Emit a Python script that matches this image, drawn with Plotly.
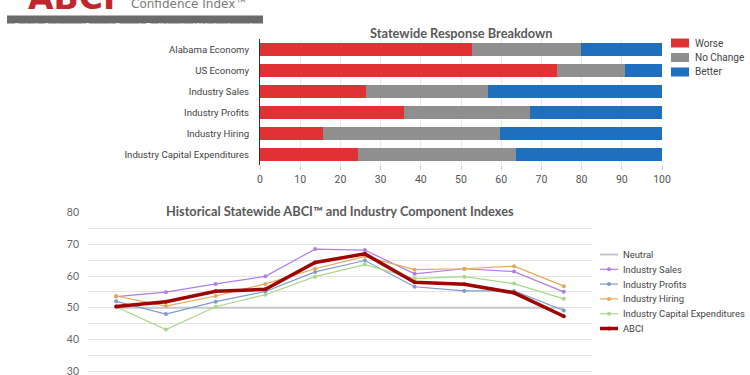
import plotly.graph_objects as go

# ---------------- data ----------------
bar_categories = ["Alabama Economy", "US Economy", "Industry Sales", "Industry Profits",
                  "Industry Hiring", "Industry Capital Expenditures"]
worse = [52.8, 74.0, 26.4, 35.8, 15.6, 24.4]
no_change = [27.1, 16.7, 30.3, 31.4, 44.2, 39.3]
better = [20.1, 9.3, 43.3, 32.8, 40.2, 36.3]

periods = ["P1", "P2", "P3", "P4", "P5", "P6", "P7", "P8", "P9", "P10"]
neutral = [50, 50, 50, 50, 50, 50, 50, 50, 50, 50]
industry_sales = [53.5, 54.9, 57.5, 59.9, 68.5, 68.2, 60.7, 62.3, 61.4, 55.0]
industry_profits = [52.0, 48.0, 51.9, 55.1, 61.3, 64.9, 56.6, 55.3, 55.3, 49.1]
industry_hiring = [53.7, 50.5, 53.7, 57.5, 62.3, 66.2, 62.0, 62.3, 63.1, 56.8]
industry_capex = [50.2, 43.1, 50.3, 54.1, 59.8, 63.6, 59.2, 59.8, 57.6, 52.8]
abci = [50.4, 51.9, 55.2, 55.8, 64.3, 67.0, 58.0, 57.4, 54.7, 47.3]
y_ticks = [30, 40, 50, 60, 70, 80]

W, H = 750, 375


def px_x(p):
    return p / W


def px_y(p):
    return 1 - p / H


fig = go.Figure()

# ---------------- bar chart ----------------
bar_series = [("Worse", worse, "#e03234"), ("No Change", no_change, "#8f8f8f"),
              ("Better", better, "#1f6fbf")]
for name, vals, col in bar_series:
    fig.add_trace(go.Bar(y=bar_categories, x=vals, name=name, orientation="h",
                         marker=dict(color=col, line=dict(width=0)),
                         xaxis="x", yaxis="y", showlegend=False))

# ---------------- line chart ----------------
line_series = [
    ("Neutral", neutral, "#c6c6cc", 2, False),
    ("Industry Sales", industry_sales, "#b07fe3", 1.2, True),
    ("Industry Profits", industry_profits, "#7d9cc9", 1.2, True),
    ("Industry Hiring", industry_hiring, "#e5a85a", 1.2, True),
    ("Industry Capital Expenditures", industry_capex, "#a8d88a", 1.2, True),
    ("ABCI", abci, "#9e0606", 3.5, True),
]
for name, vals, col, w, mk in line_series:
    fig.add_trace(go.Scatter(x=periods, y=vals, name=name,
                             mode="lines+markers" if mk else "lines",
                             line=dict(color=col, width=w),
                             marker=dict(size=4, color=col),
                             xaxis="x2", yaxis="y2", showlegend=False))

label_font = "Roboto"

# line chart y scale: 10 units = 31.65 px, 30 at y=371 px
y_lo = 29
y_px_lo = 371 + (30 - y_lo) * 3.165

fig.update_layout(
    width=W, height=H,
    margin=dict(l=0, r=0, t=0, b=0, autoexpand=False),
    paper_bgcolor="white", plot_bgcolor="white",
    barmode="stack", bargap=0.4,
    font=dict(family=label_font, color="#444", size=10),
    xaxis=dict(domain=[px_x(260), px_x(662)], range=[0, 100], dtick=10,
               showgrid=True, gridcolor="#e8e8e8", gridwidth=1,
               ticks="outside", ticklen=4, tickcolor="#cccccc",
               tickfont=dict(family=label_font, size=10.5, color="#555"),
               showline=False, zeroline=False, anchor="y", automargin=False),
    yaxis=dict(domain=[px_y(165), px_y(39)], autorange="reversed",
               showline=True, linecolor="#333", linewidth=1,
               ticks="", ticklabelstandoff=8,
               tickfont=dict(family=label_font, size=9.6, color="#444"),
               anchor="x", showgrid=False, automargin=False),
    xaxis2=dict(domain=[px_x(88), px_x(592)], showgrid=False, showline=False,
                showticklabels=False, zeroline=False, anchor="y2", automargin=False),
    yaxis2=dict(domain=[px_y(y_px_lo), px_y(212.7)], range=[y_lo, 80], tickvals=y_ticks,
                showgrid=True, gridcolor="#e3e3e3", gridwidth=1.3,
                minor=dict(tickvals=[35, 45, 55, 65, 75], showgrid=True,
                           gridcolor="#e3e3e3", gridwidth=1.3),
                zeroline=False, showline=False, ticks="", ticklabelstandoff=8,
                ticklabeloverflow="allow",
                tickfont=dict(family="Lato", size=10.5, color="#666"), anchor="x2",
                automargin=False),
    showlegend=False,
)

# ---------------- custom legends (tight spacing like the reference) ----------------
bar_leg_y = [43, 57.5, 72]
for (name, vals, col), yy in zip(bar_series, bar_leg_y):
    fig.add_shape(type="rect", xref="paper", yref="paper", x0=px_x(671), x1=px_x(689),
                  y0=px_y(yy + 4.5), y1=px_y(yy - 4.5), fillcolor=col, line=dict(width=0))
    fig.add_annotation(text=name, x=px_x(693), y=px_y(yy), xref="paper", yref="paper",
                       xanchor="left", yanchor="middle", showarrow=False,
                       font=dict(family=label_font, size=10, color="#444"))

line_leg_y = [254.5, 269.3, 284.1, 298.9, 313.7, 328.5]
for (name, vals, col, w, mk), yy in zip(line_series, line_leg_y):
    fig.add_shape(type="line", xref="paper", yref="paper", x0=px_x(600), x1=px_x(618),
                  y0=px_y(yy), y1=px_y(yy), line=dict(color=col, width=w))
    if mk:
        fig.add_shape(type="circle", xref="paper", yref="paper",
                      x0=px_x(607), x1=px_x(611), y0=px_y(yy + 2), y1=px_y(yy - 2),
                      fillcolor=col, line=dict(width=0))
    fig.add_annotation(text=name, x=px_x(621), y=px_y(yy), xref="paper", yref="paper",
                       xanchor="left", yanchor="middle", showarrow=False,
                       font=dict(family=label_font, size=9.4, color="#444"))

# titles
fig.add_annotation(text="<b>Statewide Response Breakdown</b>", x=px_x(461), y=px_y(23),
                   xref="paper", yref="paper", showarrow=False,
                   font=dict(family="Lato", size=12.8, color="#595959"))
fig.add_annotation(text="<b>Historical Statewide ABCI™ and Industry Component Indexes</b>",
                   x=px_x(340), y=px_y(211), xref="paper", yref="paper", showarrow=False,
                   font=dict(family="Lato", size=12.8, color="#595959"),
                   bgcolor="white", borderpad=2)

# logo pieces
fig.add_annotation(text="<b>ABCI</b>", x=px_x(26), y=px_y(12), xref="paper", yref="paper",
                   xanchor="left", yanchor="bottom", showarrow=False, yshift=-7,
                   font=dict(family="DejaVu Sans", size=33, color="#c0272d"))
fig.add_annotation(text="Confidence Index™", x=px_x(129), y=px_y(9), xref="paper", yref="paper",
                   xanchor="left", yanchor="bottom", showarrow=False, yshift=-4,
                   font=dict(family="DejaVu Sans", size=12, color="#7a7a7a"))
fig.add_shape(type="rect", xref="paper", yref="paper", x0=px_x(7), x1=px_x(263),
              y0=px_y(23.5), y1=px_y(15.5), fillcolor="#6b6b6b", line=dict(width=0))
fig.add_annotation(text="<b><i>Center for Business and Economic Research, The University of Alabama</i></b>",
                   x=px_x(12), y=px_y(19.5), xref="paper", yref="paper", xanchor="left",
                   showarrow=False, font=dict(family="Liberation Sans", size=6, color="white"))
fig.add_annotation(text="<b><i>cber.cba.ua.edu</i></b>", x=px_x(258), y=px_y(19.5),
                   xref="paper", yref="paper", xanchor="right",
                   showarrow=False, font=dict(family="Liberation Sans", size=6, color="white"))

# remove the browser's default 8px page margin so the figure sits at the window corner
fig.write_html("out.html", config={"displayModeBar": False},
               post_script="document.body.style.margin='0';")
